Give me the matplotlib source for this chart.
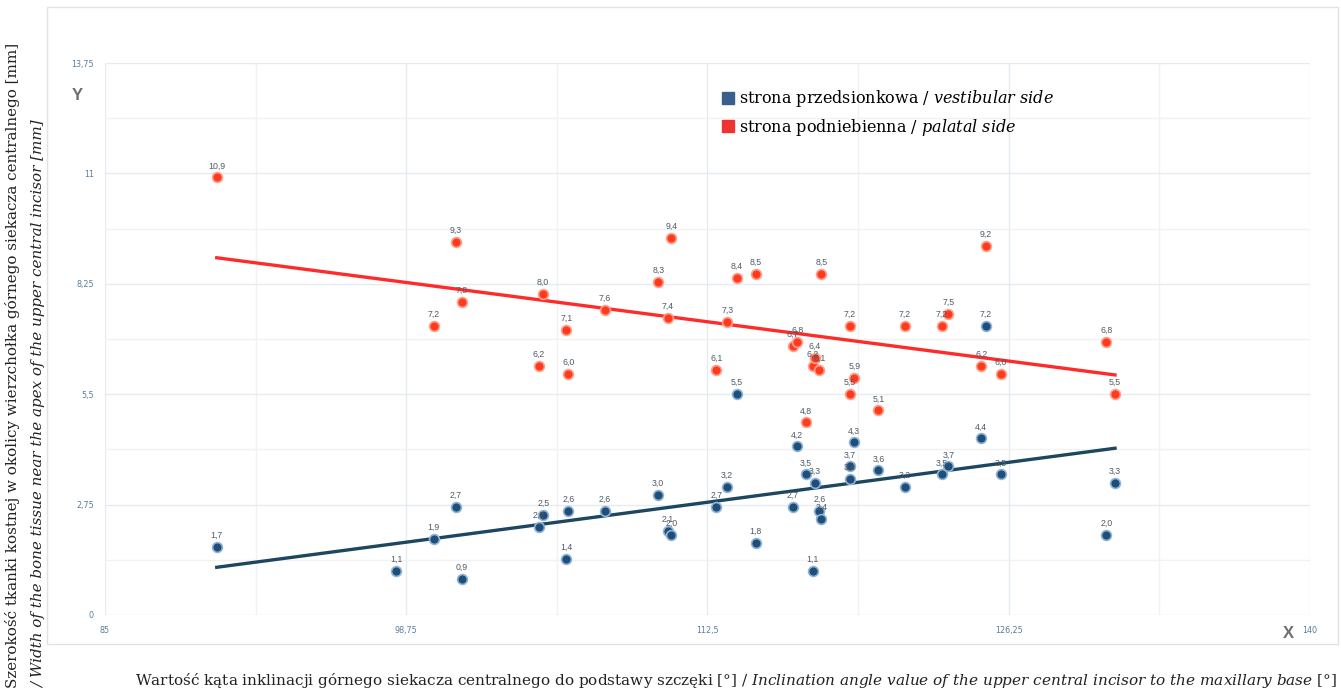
import matplotlib
matplotlib.use('Agg')
import matplotlib.pyplot as plt
import matplotlib.patches as patches
from matplotlib.ticker import FuncFormatter
import numpy as np

# strona przedsionkowa / vestibular side
x_vest = [90.1, 98.3, 100.0, 101.0, 101.3, 104.8, 105.0, 106.06, 106.15, 107.8,
          110.25, 110.7, 110.85, 112.9, 113.4, 113.85, 114.7, 116.4, 116.6, 117.0,
          117.4, 117.3, 117.6, 117.7, 119.0, 119.0, 119.2, 120.3, 121.5, 123.2,
          123.5, 125.0, 125.2, 125.9, 130.7, 131.1]
y_vest = [1.7, 1.1, 1.9, 2.7, 0.9, 2.2, 2.5, 1.4, 2.6, 2.6,
          3.0, 2.1, 2.0, 2.7, 3.2, 5.5, 1.8, 2.7, 4.2, 3.5,
          3.3, 1.1, 2.6, 2.4, 3.7, 3.4, 4.3, 3.6, 3.2, 3.5,
          3.7, 4.4, 7.2, 3.5, 2.0, 3.3]

# strona podniebienna / palatal side
x_pal = [90.1, 100.0, 101.0, 101.3, 104.8, 105.0, 106.06, 106.15, 107.8, 110.25,
         110.7, 110.85, 112.9, 113.4, 113.85, 114.7, 116.4, 116.6, 117.0, 117.3,
         117.4, 117.6, 117.7, 119.0, 119.0, 119.2, 120.3, 121.5, 123.2, 123.5,
         125.0, 125.2, 125.9, 130.7, 131.1]
y_pal = [10.9, 7.2, 9.3, 7.8, 6.2, 8.0, 7.1, 6.0, 7.6, 8.3,
         7.4, 9.4, 6.1, 7.3, 8.4, 8.5, 6.7, 6.8, 4.8, 6.2,
         6.4, 6.1, 8.5, 7.2, 5.5, 5.9, 5.1, 7.2, 7.2, 7.5,
         6.2, 9.2, 6.0, 6.8, 5.5]

x_ticks = [85, 98.75, 112.5, 126.25, 140]
y_ticks = [0, 2.75, 5.5, 8.25, 11, 13.75]

blue = '#1f4e79'
blue_line = '#1d4660'
red = '#ff3b1f'
red_line = '#ff2b2b'
tick_col = '#5a7d9a'

plt.rcParams['mathtext.fontset'] = 'custom'
plt.rcParams['mathtext.rm'] = 'DejaVu Serif'
plt.rcParams['mathtext.it'] = 'DejaVu Serif:italic'

fig = plt.figure(figsize=(13.41, 6.94), dpi=100)
ax = fig.add_axes([105 / 1341, 1 - 615 / 694, 1205 / 1341, 552 / 694])

# outer chart frame
fig.patches.append(patches.Rectangle((47 / 1341, 1 - 644 / 694), 1291 / 1341, 637 / 694,
                                     transform=fig.transFigure, fill=False,
                                     edgecolor='#e2e2e2', lw=1))

ax.scatter(x_vest, y_vest, s=50, color=blue, edgecolors='#8fb3d6', linewidths=1.2, zorder=3)
ax.scatter(x_pal, y_pal, s=50, color=red, edgecolors='#ffa08c', linewidths=1.2, zorder=3)

for xs, ys, col, lc in [(x_vest, y_vest, blue, blue_line), (x_pal, y_pal, red, red_line)]:
    k, b = np.polyfit(xs, ys, 1)
    xl = np.array([min(xs), max(xs)])
    ax.plot(xl, k * xl + b, color=lc, lw=2.4, zorder=2)
    for xi, yi in zip(xs, ys):
        ax.annotate(f'{yi:.1f}'.replace('.', ','), (xi, yi), xytext=(0, 5),
                    textcoords='offset points', ha='center', va='bottom',
                    fontsize=6.3, color='#4f5b66', family='Liberation Sans', zorder=4)

ax.set_xlim(85, 140)
ax.set_ylim(0, 13.75)
ax.set_xticks(x_ticks)
ax.set_yticks(y_ticks)
ax.set_xticks([(a + b) / 2 for a, b in zip(x_ticks[:-1], x_ticks[1:])], minor=True)
ax.set_yticks([(a + b) / 2 for a, b in zip(y_ticks[:-1], y_ticks[1:])], minor=True)
fmt = FuncFormatter(lambda v, p: f'{v:g}'.replace('.', ','))
ax.xaxis.set_major_formatter(fmt)
ax.yaxis.set_major_formatter(fmt)
ax.tick_params(which='both', length=0, labelsize=5.8, labelcolor=tick_col)
ax.tick_params(axis='x', pad=8)
ax.tick_params(axis='y', pad=8)
ax.grid(which='major', color='#e4ebf1', lw=1)
ax.grid(which='minor', color='#f2f2f2', lw=1)
ax.set_axisbelow(True)
for s in ax.spines.values():
    s.set_visible(False)

fig.text(77 / 1341, 1 - 95 / 694, 'Y', fontsize=12, fontweight='bold', color='#6f6f6f',
         ha='center', va='center', family='Liberation Sans')
fig.text(1288 / 1341, 1 - 633 / 694, 'X', fontsize=12, fontweight='bold', color='#6f6f6f',
         ha='center', va='center', family='Liberation Sans')

fig.text(13 / 1341, 1 - 688 / 694,
         'Szerokość tkanki kostnej w okolicy wierzchołka górnego siekacza centralnego [mm]',
         rotation=90, rotation_mode='anchor', ha='left', va='center',
         fontsize=10.9, family='DejaVu Serif', color='#222222')
fig.text(39 / 1341, 1 - 688 / 694,
         '/ Width of the bone tissue near the apex of the upper central incisor [mm]',
         rotation=90, rotation_mode='anchor', ha='left', va='center',
         fontsize=10.9, family='DejaVu Serif', style='italic', color='#222222')

fig.text(1337 / 1341, 1 - 680 / 694,
         r'Wartość kąta inklinacji górnego siekacza centralnego do podstawy szczęki [°] / '
         r'$\mathit{Inclination\ angle\ value\ of\ the\ upper\ central\ incisor\ to\ the\ maxillary\ base\ [°]}$',
         ha='right', va='center', fontsize=11, family='DejaVu Serif', color='#222222')

h1 = plt.Line2D([], [], marker='s', ls='none', color='#3a5f8f', markersize=8)
h2 = plt.Line2D([], [], marker='s', ls='none', color='#ee3333', markersize=8)
ax.legend([h1, h2],
          [r'strona przedsionkowa / $\mathit{vestibular\ side}$',
           r'strona podniebienna / $\mathit{palatal\ side}$'],
          loc='upper left', bbox_to_anchor=(715 / 1341, 1 - 82 / 694),
          bbox_transform=fig.transFigure, frameon=False, handlelength=0.8,
          handletextpad=0.3, labelspacing=0.45, borderaxespad=0,
          prop={'family': 'DejaVu Serif', 'size': 11.5})

fig.savefig('out.png', dpi=100)
